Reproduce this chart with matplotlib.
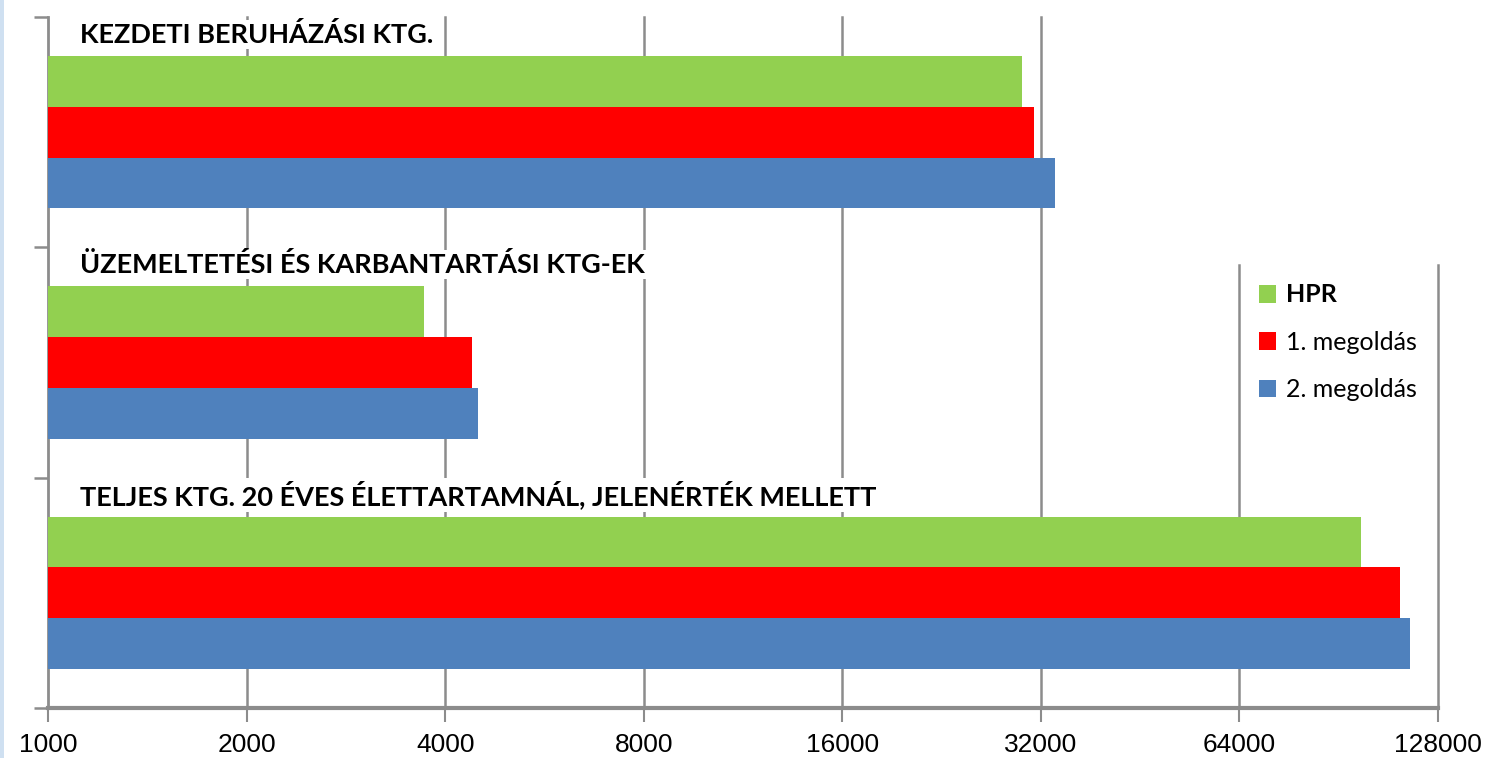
import matplotlib.pyplot as plt
from matplotlib.patches import Patch, Rectangle
import numpy as np

# költségkategóriák és a három változat értékei
kategoriak = ['KEZDETI BERUHÁZÁSI KTG.',
              'ÜZEMELTETÉSI ÉS KARBANTARTÁSI KTG-EK',
              'TELJES KTG. 20 ÉVES ÉLETTARTAMNÁL, JELENÉRTÉK MELLETT']
hpr = [30000, 3710, 97800]
megoldas1 = [31250, 4400, 112000]
megoldas2 = [33600, 4480, 116000]
sorozat_nevek = ['HPR', '1. megoldás', '2. megoldás']
szinek = ['#92d050', '#ff0000', '#4f81bd']
x_tickek = [1000, 2000, 4000, 8000, 16000, 32000, 64000, 128000]

racs = '#8c8c8c'
cimke_font = ['Lato', 'DejaVu Sans']
tick_font = ['Liberation Sans', 'DejaVu Sans']

fig = plt.figure(figsize=(14.92, 7.58), dpi=100)
ax = fig.add_axes([48/1492, 50/758, 1390/1492, 691/758])

ax.set_xscale('log', base=2)
ax.set_xlim(x_tickek[0], x_tickek[-1])
ax.set_ylim(2.5, -0.5)

y = np.arange(len(kategoriak))
h = 0.22
for i, (vals, szin) in enumerate(zip([hpr, megoldas1, megoldas2], szinek)):
    ax.barh(y + (i - 1) * h, np.array(vals) - x_tickek[0], left=x_tickek[0],
            height=h, color=szin, zorder=3)

# függőleges rácsvonalak (a jobb felső sarokban rövidebbek)
for v in x_tickek[1:]:
    felso = 1 if v <= 32000 else 0.641
    ax.axvline(v, ymin=0, ymax=felso, color=racs, lw=1.8, zorder=0, clip_on=False)

# csoportcímkék fehér háttérrel
for i, kat in enumerate(kategoriak):
    ax.text(1120, i - 0.425, kat, fontsize=19.5, fontweight='bold', family=cimke_font,
            va='center', ha='left', zorder=1,
            bbox=dict(facecolor='white', edgecolor='none', pad=1.5))

ax.set_xticks(x_tickek)
ax.set_xticklabels([str(v) for v in x_tickek], fontsize=19, family=tick_font)
ax.xaxis.set_minor_locator(plt.NullLocator())
ax.tick_params(axis='x', length=10, width=1.5, color=racs, pad=8)
ax.set_yticks([])
ax.set_yticks([-0.5, 0.5, 1.5, 2.5], minor=True)
ax.tick_params(axis='y', which='minor', length=10, width=1.8, color=racs)

for s in ['top', 'right']:
    ax.spines[s].set_visible(False)
ax.spines['left'].set_color(racs)
ax.spines['left'].set_linewidth(2)
ax.spines['bottom'].set_color(racs)
ax.spines['bottom'].set_linewidth(3)

kezelok = [Patch(facecolor=c, edgecolor='none') for c in szinek]
leg = fig.legend(kezelok, sorozat_nevek, loc='upper left',
                 bbox_to_anchor=(1236/1492, 1 - 261/758), frameon=False,
                 prop={'family': cimke_font, 'size': 18},
                 handlelength=0.7, handleheight=0.7, labelspacing=0.97,
                 handletextpad=0.4)
leg.get_texts()[0].set_fontweight('bold')

# halványkék sáv a bal szélen
fig.patches.append(Rectangle((0, 0), 4/1492, 1, transform=fig.transFigure,
                             facecolor='#cfe0f1', edgecolor='none'))

fig.savefig('out.png', dpi=100)
